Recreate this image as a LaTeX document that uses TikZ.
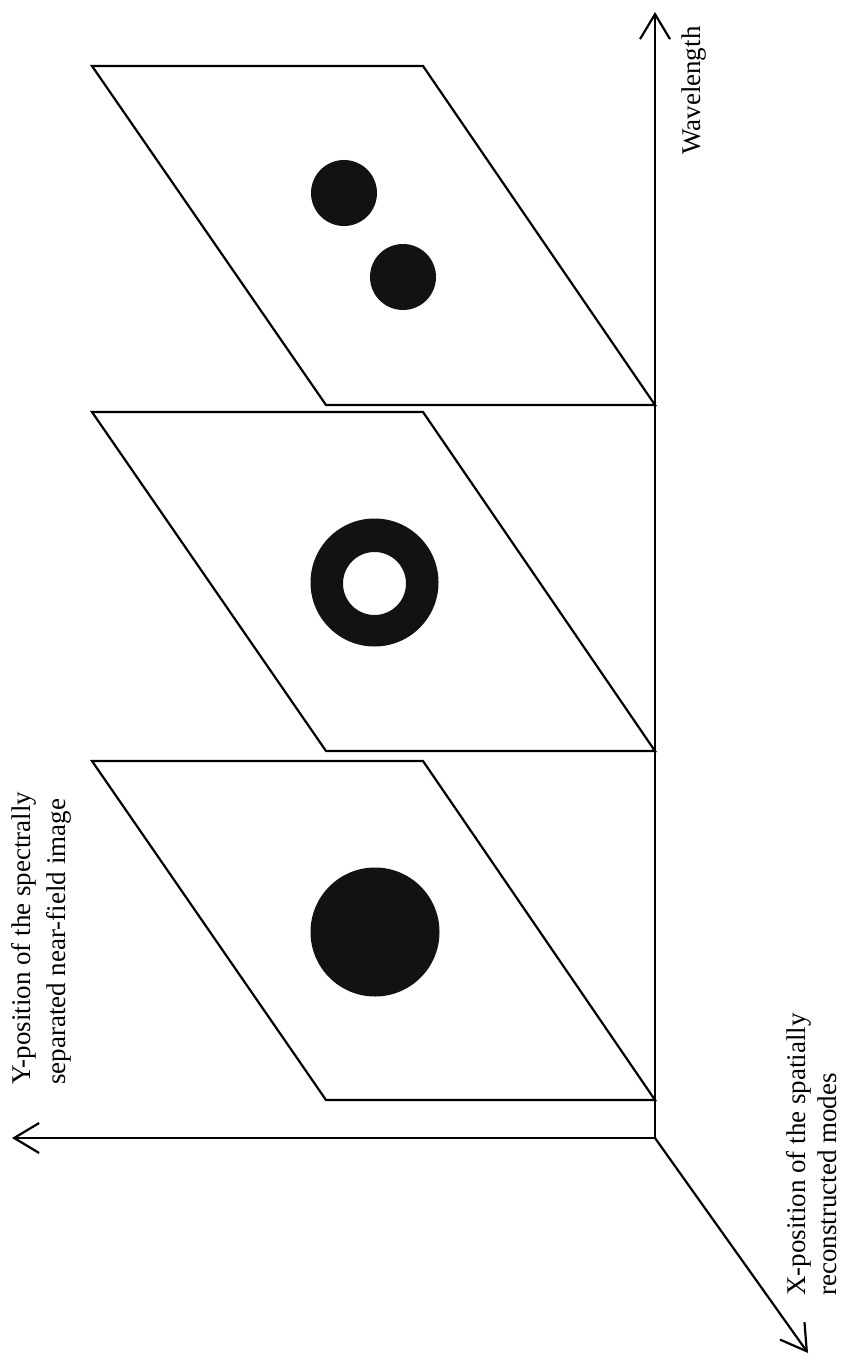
\documentclass[tikz,border=0pt]{standalone}
\usepackage{fontspec}
\setmainfont{Liberation Serif}
\usetikzlibrary{arrows.meta}
\tikzset{
  axis/.style={line width=2.2pt, -{Straight Barb[length=25pt,width=30pt]}},
  panel/.style={draw, line width=2.2pt, line join=miter, fill=white},
  blob/.style={fill=black!93},
  lbl/.style={rotate=90, inner sep=0pt, align=left}
}
\begin{document}
\begin{tikzpicture}[x=1pt,y=-1pt]
\useasboundingbox (0,0) rectangle (841,1364);
% panels
\foreach \t in {66,412,761}{
  \draw[panel] (92,\t) -- (423,\t) -- (655,\t+339) -- (326,\t+339) -- cycle;
}
% top panel: two spots
\fill[blob] (344,193) circle (33);
\fill[blob] (403,277) circle (33);
% middle panel: ring
\fill[blob, even odd rule] (374.5,582.5) circle (64) (374.5,583.5) circle (31.5);
% bottom panel: disk
\fill[blob] (375,932) circle (64.5);
% axes
\coordinate (O) at (655,1138);
\coordinate (W) at (655,12);
\coordinate (Y) at (12,1138);
\coordinate (X) at (808,1353);
\draw[axis] (O) -- (W);
\draw[axis] (O) -- (Y);
\draw[axis] (O) -- (X);
% labels
\node[lbl, anchor=west, font=\fontsize{27}{31}\selectfont] (wl) at (694,155) {Wavelength};
\node[lbl, anchor=west, font=\fontsize{27}{35}\selectfont] (yl) at (41.5,1085) {Y-position of the spectrally\\separated near-field image};
\node[lbl, anchor=west, font=\fontsize{27}{31}\selectfont] (xl) at (811.5,1296) {X-position of the spatially\\reconstructed modes};
\end{tikzpicture}
\end{document}
